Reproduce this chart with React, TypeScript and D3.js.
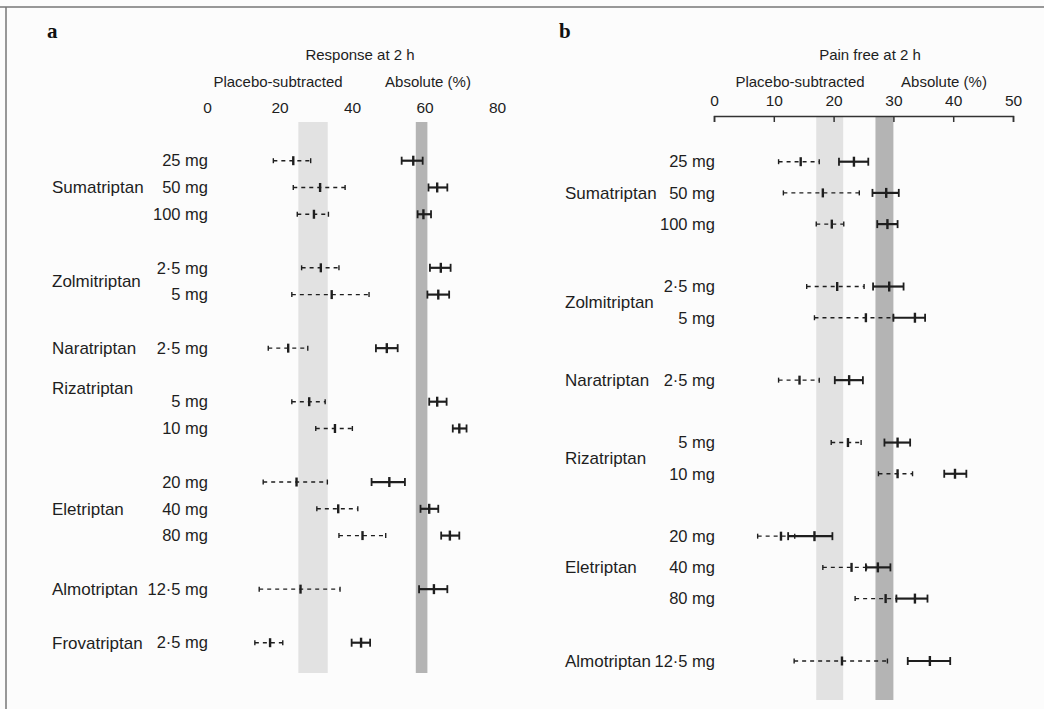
import { useEffect, useRef } from 'react';
import * as d3 from 'd3';

// ---- panel a: response at 2 h ----
const doseA = ["25 mg", "50 mg", "100 mg", "2·5 mg", "5 mg", "2·5 mg", "5 mg", "10 mg", "20 mg", "40 mg", "80 mg", "12·5 mg", "2·5 mg"];
const rowA = [0, 1, 2, 4, 5, 7, 9, 10, 12, 13, 14, 16, 18];
const drugA = ["Sumatriptan", "Zolmitriptan", "Naratriptan", "Rizatriptan", "Eletriptan", "Almotriptan", "Frovatriptan"];
const drugRowA = [1, 4.5, 7, 8.5, 13, 16, 18];
// [low, estimate, high]
const diffA = [
    [18.3, 23.8, 28.6], [23.8, 31.2, 38.1], [24.9, 29.5, 33.5],
    [26.1, 31.4, 36.4], [23.4, 34.4, 44.7],
    [16.9, 22.4, 27.8],
    [23.4, 28.2, 32.6], [30.0, 35.3, 40.1],
    [15.5, 24.7, 33.2], [30.3, 36.2, 41.6], [36.4, 42.9, 49.3],
    [14.4, 25.8, 36.7],
    [13.2, 17.4, 20.9]
];
const absA = [
    [53.7, 56.9, 59.5], [61.1, 63.5, 66.3], [58.1, 59.7, 61.8],
    [61.5, 64.5, 67.2], [60.8, 63.8, 66.8],
    [46.6, 49.6, 52.6],
    [61.3, 63.5, 66.1], [67.8, 69.6, 71.6],
    [45.4, 50.3, 54.6], [58.9, 61.3, 63.8], [64.6, 67.0, 69.6],
    [58.5, 62.6, 66.3],
    [39.9, 42.5, 45.0]
];
const diffBandA = [25.2, 33.3];
const absBandA = [57.6, 60.8];
const ticksA = [0, 20, 40, 60, 80];

// ---- panel b: pain free at 2 h ----
const doseB = ["25 mg", "50 mg", "100 mg", "2·5 mg", "5 mg", "2·5 mg", "5 mg", "10 mg", "20 mg", "40 mg", "80 mg", "12·5 mg"];
const rowB = [0, 1, 2, 4, 5, 7, 9, 10, 12, 13, 14, 16];
const drugB = ["Sumatriptan", "Zolmitriptan", "Naratriptan", "Rizatriptan", "Eletriptan", "Almotriptan"];
const drugRowB = [1, 4.5, 7, 9.5, 13, 16];
const diffB = [
    [10.8, 14.5, 17.6], [11.6, 18.2, 24.3], [17.1, 19.7, 21.7],
    [15.5, 20.6, 25.1], [16.8, 25.4, 30.0],
    [10.8, 14.3, 17.6],
    [19.6, 22.4, 24.6], [27.5, 30.7, 33.2],
    [7.3, 11.2, 13.5], [18.2, 23.0, 25.5], [23.6, 28.7, 30.5],
    [13.4, 21.4, 29.0]
];
const absB = [
    [20.9, 23.4, 25.8], [26.5, 28.8, 30.9], [27.3, 29.0, 30.7],
    [26.6, 29.3, 31.7], [30.0, 33.6, 35.3],
    [20.2, 22.6, 24.9],
    [28.5, 30.7, 32.8], [38.5, 40.3, 42.2],
    [12.4, 16.8, 19.8], [25.4, 27.4, 29.5], [30.5, 33.6, 35.7],
    [32.4, 36.1, 39.5]
];
const diffBandB = [17.1, 21.6];
const absBandB = [27.0, 30.0];
const ticksB = [0, 10, 20, 30, 40, 50];

const SANS = "'Liberation Sans', Arial, sans-serif";
const INK = "#1e1e1e";

function drawPanel(svg: any, p: any) {
    const x = d3.scaleLinear().domain(p.xDomain).range(p.xRange);
    const y = d3.scaleLinear().domain(p.yDomain).range(p.yRange);
    const g = svg.append("g");

    // panel letter and headings
    g.append("text")
        .attr("x", p.letterX).attr("y", 38)
        .attr("font-family", "'Liberation Serif', 'Times New Roman', serif")
        .attr("font-weight", "bold").attr("font-size", 21)
        .attr("fill", "#111")
        .text(p.letter);
    g.append("text")
        .attr("x", p.titleX).attr("y", 60)
        .attr("text-anchor", "middle")
        .attr("font-family", SANS).attr("font-size", 15).attr("fill", INK)
        .text(p.title);
    g.append("text")
        .attr("x", p.subX[0]).attr("y", 87)
        .attr("text-anchor", "middle")
        .attr("font-family", SANS).attr("font-size", 15).attr("fill", INK)
        .text("Placebo-subtracted");
    g.append("text")
        .attr("x", p.subX[1]).attr("y", 87)
        .attr("text-anchor", "middle")
        .attr("font-family", SANS).attr("font-size", 15).attr("fill", INK)
        .text("Absolute (%)");

    // mean bands
    g.append("rect")
        .attr("x", x(p.diffBand[0])).attr("width", x(p.diffBand[1]) - x(p.diffBand[0]))
        .attr("y", p.bandY[0]).attr("height", p.bandY[1] - p.bandY[0])
        .attr("fill", "#e2e2e2");
    g.append("rect")
        .attr("x", x(p.absBand[0])).attr("width", x(p.absBand[1]) - x(p.absBand[0]))
        .attr("y", p.bandY[0]).attr("height", p.bandY[1] - p.bandY[0])
        .attr("fill", "#b4b4b4");

    // axis
    const axis = d3.axisTop(x).tickValues(p.ticks).tickFormat(d3.format("d"));
    if (p.axisLine) {
        axis.tickSizeInner(-6).tickSizeOuter(-6).tickPadding(10);
    } else {
        axis.tickSize(0).tickPadding(3);
    }
    const ax = g.append("g")
        .attr("transform", "translate(0," + p.axisY + ")")
        .call(axis);
    ax.selectAll("text")
        .attr("font-family", SANS).attr("font-size", 15.5).attr("fill", INK);
    ax.selectAll("path, line").attr("stroke", "#333").attr("stroke-width", 1.5);
    if (!p.axisLine) {
        ax.select(".domain").remove();
        ax.selectAll(".tick line").remove();
    }

    // row labels
    g.selectAll(".dose")
        .data(p.dose).enter()
        .append("text")
        .attr("x", p.doseX)
        .attr("y", function(d: string, i: number) { return y(p.row[i]); })
        .attr("dy", "0.35em")
        .attr("text-anchor", "end")
        .attr("font-family", SANS).attr("font-size", 16.5).attr("fill", INK)
        .text(function(d: string) { return d; });
    g.selectAll(".drug")
        .data(p.drug).enter()
        .append("text")
        .attr("x", p.drugX)
        .attr("y", function(d: string, i: number) { return y(p.drugRow[i]); })
        .attr("dy", "0.35em")
        .attr("font-family", SANS).attr("font-size", 17).attr("fill", INK)
        .text(function(d: string) { return d; });

    // interval bars
    function bars(data: number[][], dashed: boolean) {
        const cap = dashed ? 2.5 : 4;
        const mid = dashed ? 4.5 : 5;
        const sw = dashed ? 1.4 : 2.2;
        const rows = g.append("g").selectAll("g")
            .data(data).enter()
            .append("g")
            .attr("transform", function(d: number[], i: number) { return "translate(0," + y(p.row[i]) + ")"; });
        rows.append("line")
            .attr("x1", function(d: number[]) { return x(d[0]); })
            .attr("x2", function(d: number[]) { return x(d[2]); })
            .attr("stroke", INK).attr("stroke-width", sw)
            .attr("stroke-dasharray", dashed ? "4,4" : null);
        [0, 2].forEach(function(k) {
            rows.append("line")
                .attr("x1", function(d: number[]) { return x(d[k]); })
                .attr("x2", function(d: number[]) { return x(d[k]); })
                .attr("y1", -cap).attr("y2", cap)
                .attr("stroke", INK).attr("stroke-width", dashed ? 1.4 : 1.8);
        });
        rows.append("line")
            .attr("x1", function(d: number[]) { return x(d[1]); })
            .attr("x2", function(d: number[]) { return x(d[1]); })
            .attr("y1", -mid).attr("y2", mid)
            .attr("stroke", INK).attr("stroke-width", 2.4);
    }
    bars(p.diff, true);
    bars(p.abs, false);
}

export default function App() {
    const ref = useRef<SVGSVGElement>(null);

    useEffect(() => {
        const svg = d3.select(ref.current);
        svg.selectAll("*").remove();

        svg.append("rect").attr("width", 1044).attr("height", 709).attr("fill", "#fcfcfc");
        // frame
        svg.append("line").attr("x1", 0).attr("x2", 1044).attr("y1", 7).attr("y2", 7)
            .attr("stroke", "#777").attr("stroke-width", 1.5);
        svg.append("line").attr("x1", 6).attr("x2", 6).attr("y1", 7).attr("y2", 709)
            .attr("stroke", "#777").attr("stroke-width", 1.5);

        drawPanel(svg, {
            letter: "a", letterX: 47, title: "Response at 2 h", titleX: 360, subX: [278, 428],
            xDomain: [0, 80], xRange: [207, 497], yDomain: [0, 18], yRange: [160.7, 642.7],
            axisY: 116, axisLine: false, ticks: ticksA, bandY: [122, 673],
            doseX: 208, drugX: 52,
            dose: doseA, row: rowA, drug: drugA, drugRow: drugRowA,
            diff: diffA, abs: absA, diffBand: diffBandA, absBand: absBandA
        });
        drawPanel(svg, {
            letter: "b", letterX: 559, title: "Pain free at 2 h", titleX: 870, subX: [800, 944],
            xDomain: [0, 50], xRange: [714, 1013], yDomain: [0, 16], yRange: [161.7, 661],
            axisY: 116, axisLine: true, ticks: ticksB, bandY: [117, 700],
            doseX: 715, drugX: 565,
            dose: doseB, row: rowB, drug: drugB, drugRow: drugRowB,
            diff: diffB, abs: absB, diffBand: diffBandB, absBand: absBandB
        });
    }, []);

    return (
        <svg ref={ref} width={1044} height={709}
            style={{ position: "absolute", left: 0, top: 0, display: "block" }} />
    );
}
